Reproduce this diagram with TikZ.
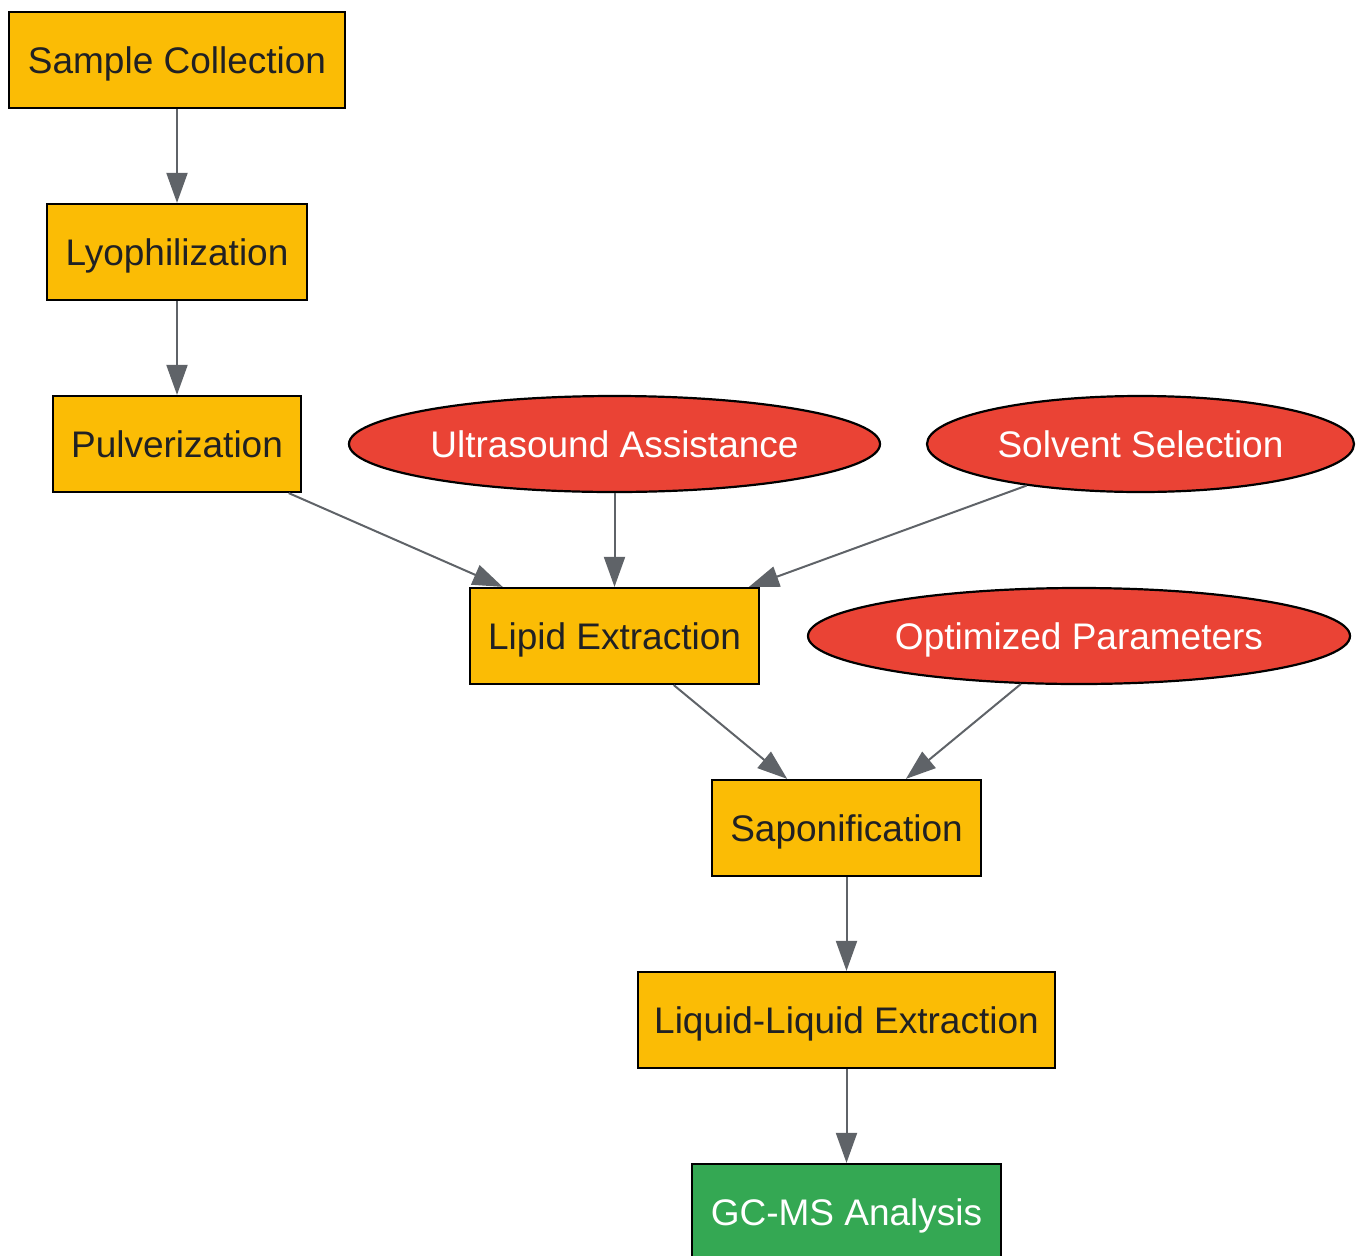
\documentclass[tikz,border=0pt]{standalone}
\usepackage{fontspec}
\setmainfont{Liberation Sans}
\usetikzlibrary{shapes.geometric,arrows.meta}
\definecolor{ybox}{HTML}{FBBC05}
\definecolor{rnode}{HTML}{EA4335}
\definecolor{gbox}{HTML}{34A853}
\definecolor{edgec}{HTML}{5F6368}
\definecolor{txtd}{HTML}{202124}
\tikzset{
  base/.style={draw=black, line width=2.2pt, inner sep=0pt, font=\fontsize{37}{44}\selectfont, minimum height=96pt, text height=27.5pt, text depth=0pt},
  stepbox/.style={base, rectangle, fill=ybox, text=txtd},
  endbox/.style={base, rectangle, fill=gbox, text=white},
  factor/.style={base, ellipse, fill=rnode, text=white},
  conn/.style={draw=edgec, line width=2pt, -{Triangle[length=30pt,width=21pt]}}
}
\begin{document}
\begin{tikzpicture}[x=1pt,y=-1pt]
\useasboundingbox (0,0) rectangle (1358,1256);
\clip (0,0) rectangle (1358,1256);
\node[stepbox, minimum width=336pt] (sc) at (177,60) {Sample Collection};
\node[stepbox, minimum width=260pt] (ly) at (177,252) {Lyophilization};
\node[stepbox, minimum width=248pt] (pu) at (177,444) {Pulverization};
\node[factor, minimum width=531pt] (us) at (614.5,444) {Ultrasound Assistance};
\node[factor, minimum width=427pt] (ss) at (1140.5,444) {Solvent Selection};
\node[stepbox, minimum width=289pt] (le) at (614.5,636) {Lipid Extraction};
\node[factor, minimum width=542pt] (op) at (1079,636) {Optimized Parameters};
\node[stepbox, minimum width=269pt] (sa) at (846.5,828) {Saponification};
\node[stepbox, minimum width=417pt] (ll) at (846.5,1020) {Liquid-Liquid Extraction};
\node[endbox, minimum width=309pt] (gc) at (846.5,1212) {GC-MS Analysis};
\draw[conn] (sc) -- (ly);
\draw[conn] (ly) -- (pu);
\draw[conn] (pu) -- (le);
\draw[conn] (us) -- (le);
\draw[conn] (ss) -- (le);
\draw[conn] (le) -- (sa);
\draw[conn] (op) -- (sa);
\draw[conn] (sa) -- (ll);
\draw[conn] (ll) -- (gc);
\end{tikzpicture}
\end{document}
